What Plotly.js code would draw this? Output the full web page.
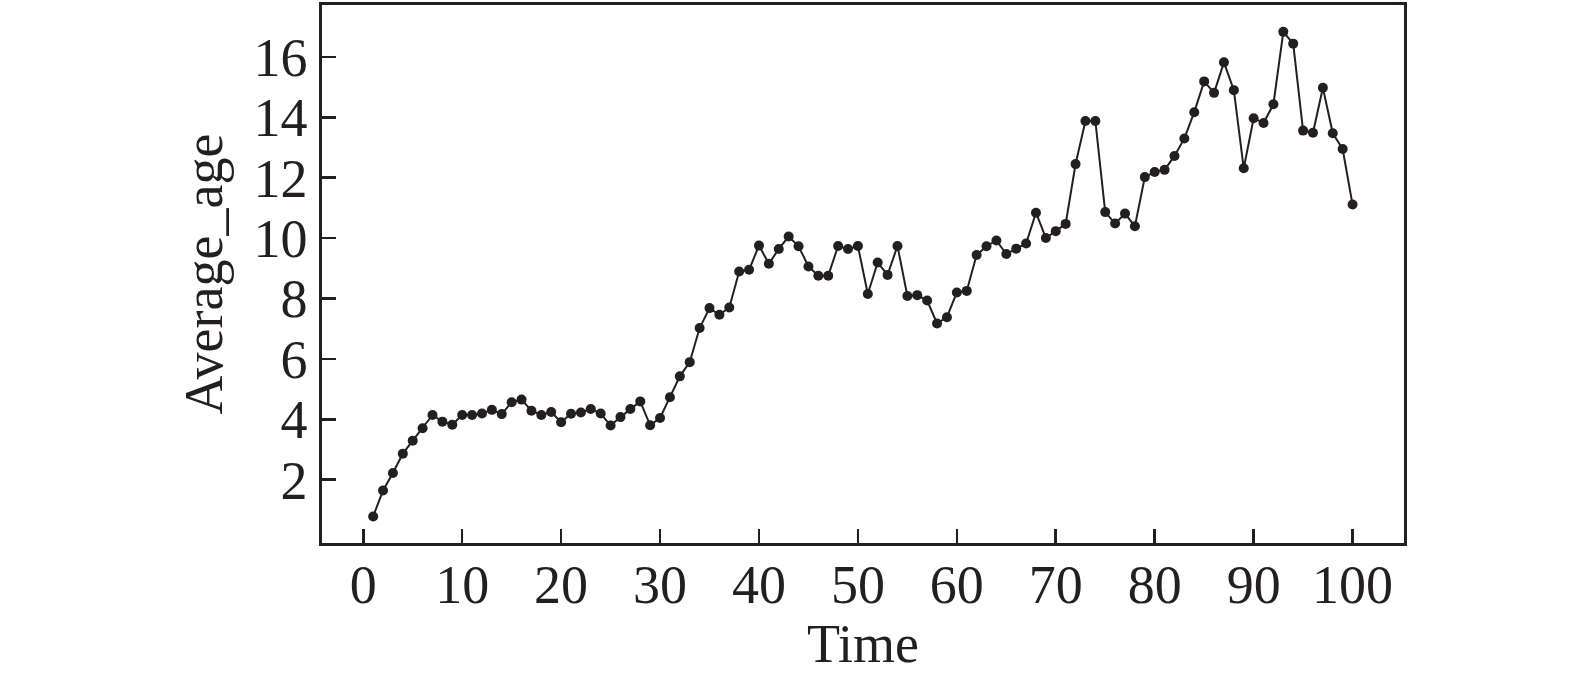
<!DOCTYPE html>
<html>
<head>
<meta charset="utf-8">
<script src="https://cdn.plot.ly/plotly-3.0.1.min.js"></script>
<style>
  html, body { margin: 0; padding: 0; background: #ffffff; }
  #chart { width: 1575px; height: 681px; }
</style>
</head>
<body>
<div id="chart"></div>
<script>
// Time steps
const time = [];
for (let i = 1; i <= 100; i++) time.push(i);

// Average_age values
const averageAge = [
  0.78, 1.64, 2.22, 2.86, 3.29, 3.70, 4.14, 3.92, 3.82, 4.14,
  4.14, 4.19, 4.31, 4.17, 4.56, 4.65, 4.28, 4.14, 4.24, 3.90,
  4.18, 4.22, 4.34, 4.19, 3.79, 4.07, 4.34, 4.59, 3.80, 4.04,
  4.73, 5.42, 5.89, 7.02, 7.68, 7.46, 7.70, 8.89, 8.95, 9.75,
  9.15, 9.64, 10.05, 9.73, 9.06, 8.75, 8.75, 9.74, 9.64, 9.74,
  8.15, 9.19, 8.78, 9.74, 8.08, 8.11, 7.93, 7.17, 7.38, 8.20,
  8.25, 9.44, 9.73, 9.92, 9.47, 9.65, 9.82, 10.84, 10.00, 10.23,
  10.47, 12.45, 13.88, 13.88, 10.86, 10.48, 10.81, 10.39, 12.02, 12.19,
  12.26, 12.72, 13.30, 14.17, 15.19, 14.81, 15.82, 14.90, 12.31, 13.97,
  13.81, 14.43, 16.83, 16.44, 13.56, 13.49, 14.98, 13.47, 12.95, 11.11
];

const xTickVals = [0, 10, 20, 30, 40, 50, 60, 70, 80, 90, 100];
const yTickVals = [2, 4, 6, 8, 10, 12, 14, 16];

const ink = '#231f20';
const fontFamily = '"Liberation Serif", "Times New Roman", serif';

const trace = {
  x: time,
  y: averageAge,
  type: 'scatter',
  mode: 'lines+markers',
  line: { color: ink, width: 2 },
  marker: { color: ink, size: 10 },
  showlegend: false,
  hoverinfo: 'x+y'
};

const layout = {
  width: 1575,
  height: 681,
  paper_bgcolor: '#ffffff',
  plot_bgcolor: '#ffffff',
  margin: { l: 322, r: 171, t: 5, b: 138, pad: 0 },
  font: { family: fontFamily, color: ink, size: 54 },
  showlegend: false,
  xaxis: {
    range: [-4.17, 105.2],
    tickvals: xTickVals,
    ticktext: xTickVals.map(String),
    ticks: 'inside',
    ticklen: 14,
    tickwidth: 2.6,
    tickcolor: ink,
    showline: true,
    linecolor: ink,
    linewidth: 2.7,
    mirror: true,
    showgrid: false,
    zeroline: false,
    tickfont: { family: fontFamily, size: 54, color: ink },
    ticklabelstandoff: -8,
    title: { text: 'Time', font: { family: fontFamily, size: 54, color: ink }, standoff: 4 },
    automargin: false
  },
  yaxis: {
    range: [-0.1, 17.72],
    tickvals: yTickVals,
    ticktext: yTickVals.map(String),
    ticks: 'inside',
    ticklen: 14,
    tickwidth: 2.6,
    tickcolor: ink,
    showline: true,
    linecolor: ink,
    linewidth: 2.7,
    mirror: true,
    showgrid: false,
    zeroline: false,
    tickfont: { family: fontFamily, size: 54, color: ink },
    ticklabelstandoff: 1,
    title: { text: 'Average_age', font: { family: fontFamily, size: 54, color: ink }, standoff: 14 },
    automargin: false
  }
};

Plotly.newPlot('chart', [trace], layout, { displayModeBar: false, staticPlot: true });
</script>
</body>
</html>
